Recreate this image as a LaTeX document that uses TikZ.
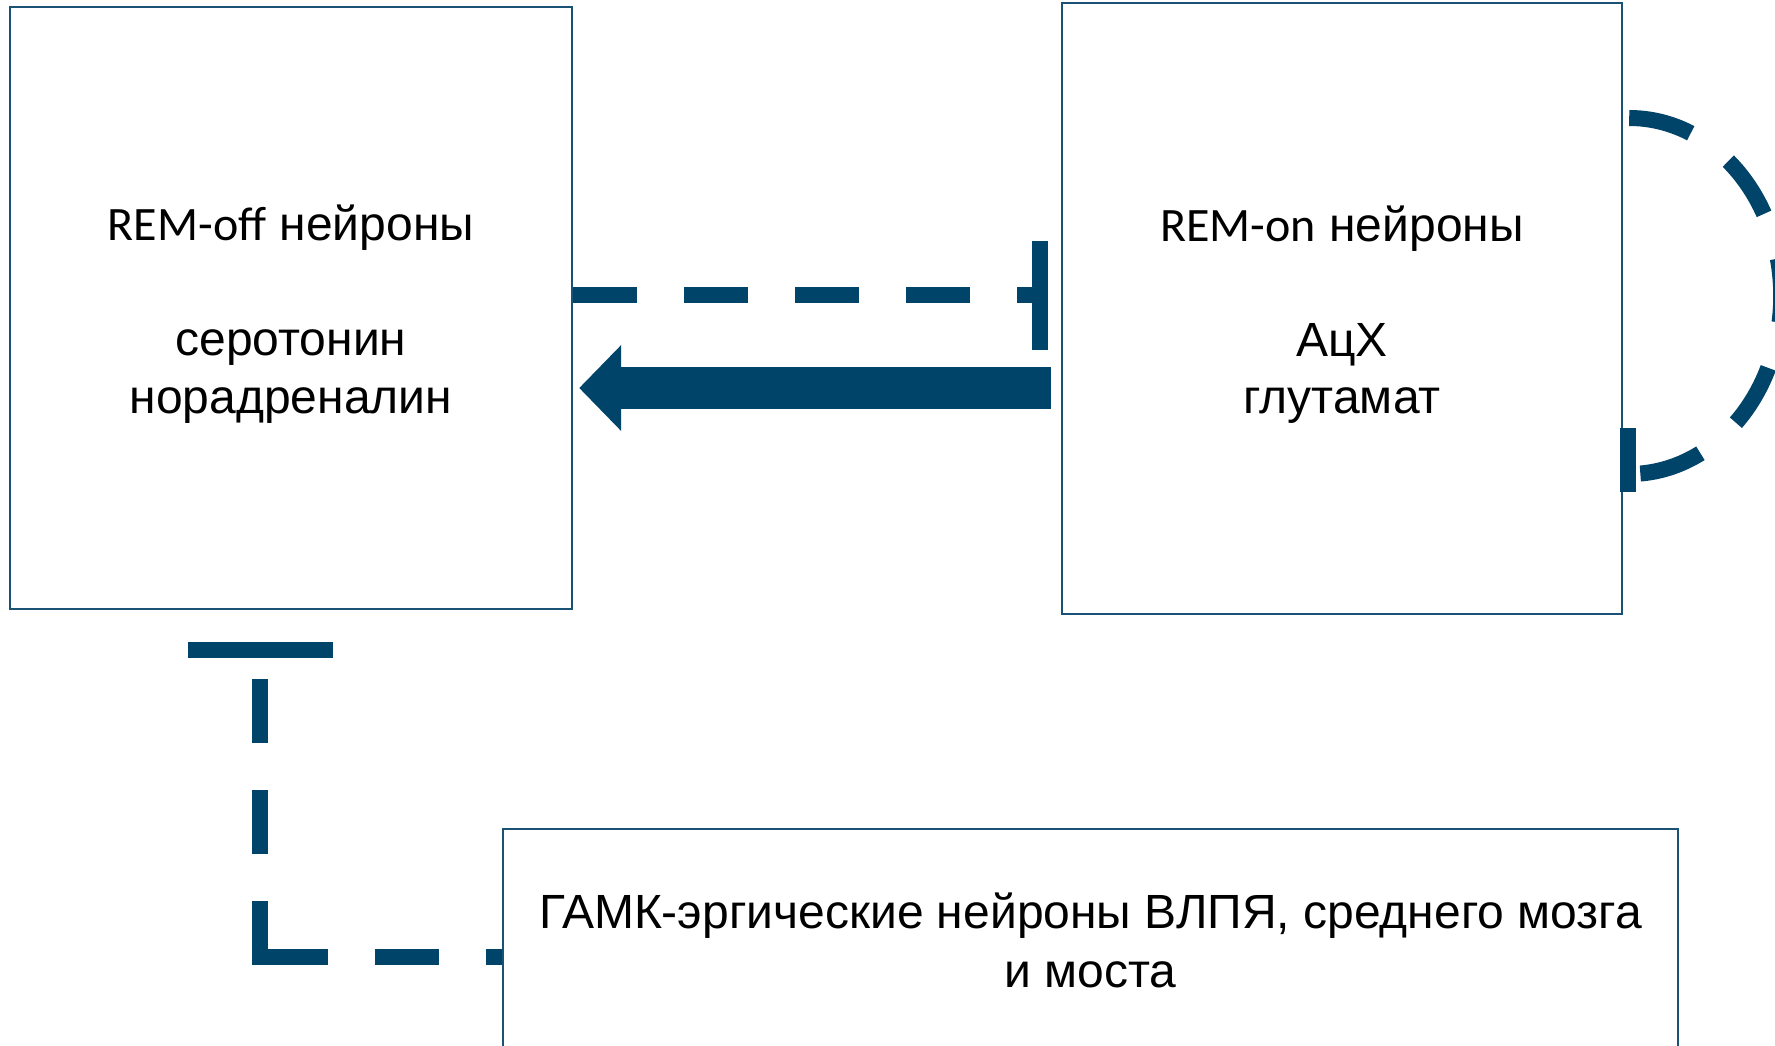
\documentclass[tikz,border=0pt]{standalone}
\usepackage{fontspec}
\setmainfont{Liberation Sans}
\newfontfamily\remfont{Carlito}
\usetikzlibrary{arrows.meta}
\definecolor{linkblue}{HTML}{00446A}
\definecolor{boxblue}{HTML}{1A5276}

\begin{document}
\begin{tikzpicture}[x=1pt,y=-1pt,
  cell/.style={draw=boxblue, line width=2.4pt, fill=white, inner sep=0pt},
  celltext/.style={inner sep=0pt, align=center,
    font=\fontsize{48}{57.5}\selectfont},
  inhib/.style={draw=linkblue, line width=16pt, dash pattern=on 64pt off 47pt},
  tbar/.style={draw=linkblue, line width=16pt},
  excite/.style={draw=linkblue, line width=41.5pt,
    -{Triangle[width=83.5pt,length=42pt]}},
]
\path[use as bounding box, clip] (0,0) rectangle (1775,1045);
\fill[white] (0,0) rectangle (1775,1045);

% neuron groups
\node[cell, minimum width=562pt, minimum height=602pt] (off) at (291,308) {};
\node[celltext] (offtext) at ([yshift=-6pt]off.center)
  {{\remfont REM-off} нейроны\\\mbox{}\\серотонин\\норадреналин};
\node[cell, minimum width=560pt, minimum height=611pt] (on) at (1342,308.5) {};
\node[celltext] (ontext) at ([yshift=-6pt]on.center)
  {{\remfont REM-on} нейроны\\\mbox{}\\АцХ\\глутамат};
\node[cell, minimum width=1175pt, minimum height=222pt] (gaba) at (1090.5,940) {};
\node[celltext, font=\fontsize{48}{59}\selectfont] (gabatext) at (gaba.center)
  {ГАМК-эргические нейроны ВЛПЯ, среднего мозга\\и моста};

% REM-off inhibits REM-on
\coordinate (barA) at (1040,295);
\draw[inhib] (off.east |- barA) -- (barA);
\draw[tbar] ([yshift=-54.5pt]barA) -- ([yshift=54.5pt]barA);

% REM-on excites REM-off
\path (on.west) ++(-10,79.5) coordinate (tail);
\path (off.east) ++(6,80) coordinate (tip);
\draw[excite] (tail) -- (tip);

% REM-on self-inhibition loop
\path (on.east) ++(6,-190.5) coordinate (loopS);
\path (on.east) ++(158,-12.5) coordinate (loopR);
\path (on.east) ++(6,165.5) coordinate (loopE);
\path (on.east) ++(5,151.5) coordinate (barL);
\draw[inhib] (loopS) .. controls +(84,0) and +(0,-98) .. (loopR)
  .. controls +(0,98) and +(84,0) .. (loopE);
\draw[tbar] ([yshift=-32pt]barL) -- ([yshift=32pt]barL);

% GABA neurons inhibit REM-off
\coordinate (elbow) at (260,957);
\coordinate (barB) at (260,650);
\draw[inhib] ([xshift=4pt]elbow) -- (elbow -| gaba.west);
\draw[inhib] ([yshift=-8pt]elbow) -- (barB);
\draw[tbar] ([xshift=-72.5pt]barB) -- ([xshift=72.5pt]barB);
\end{tikzpicture}
\end{document}
